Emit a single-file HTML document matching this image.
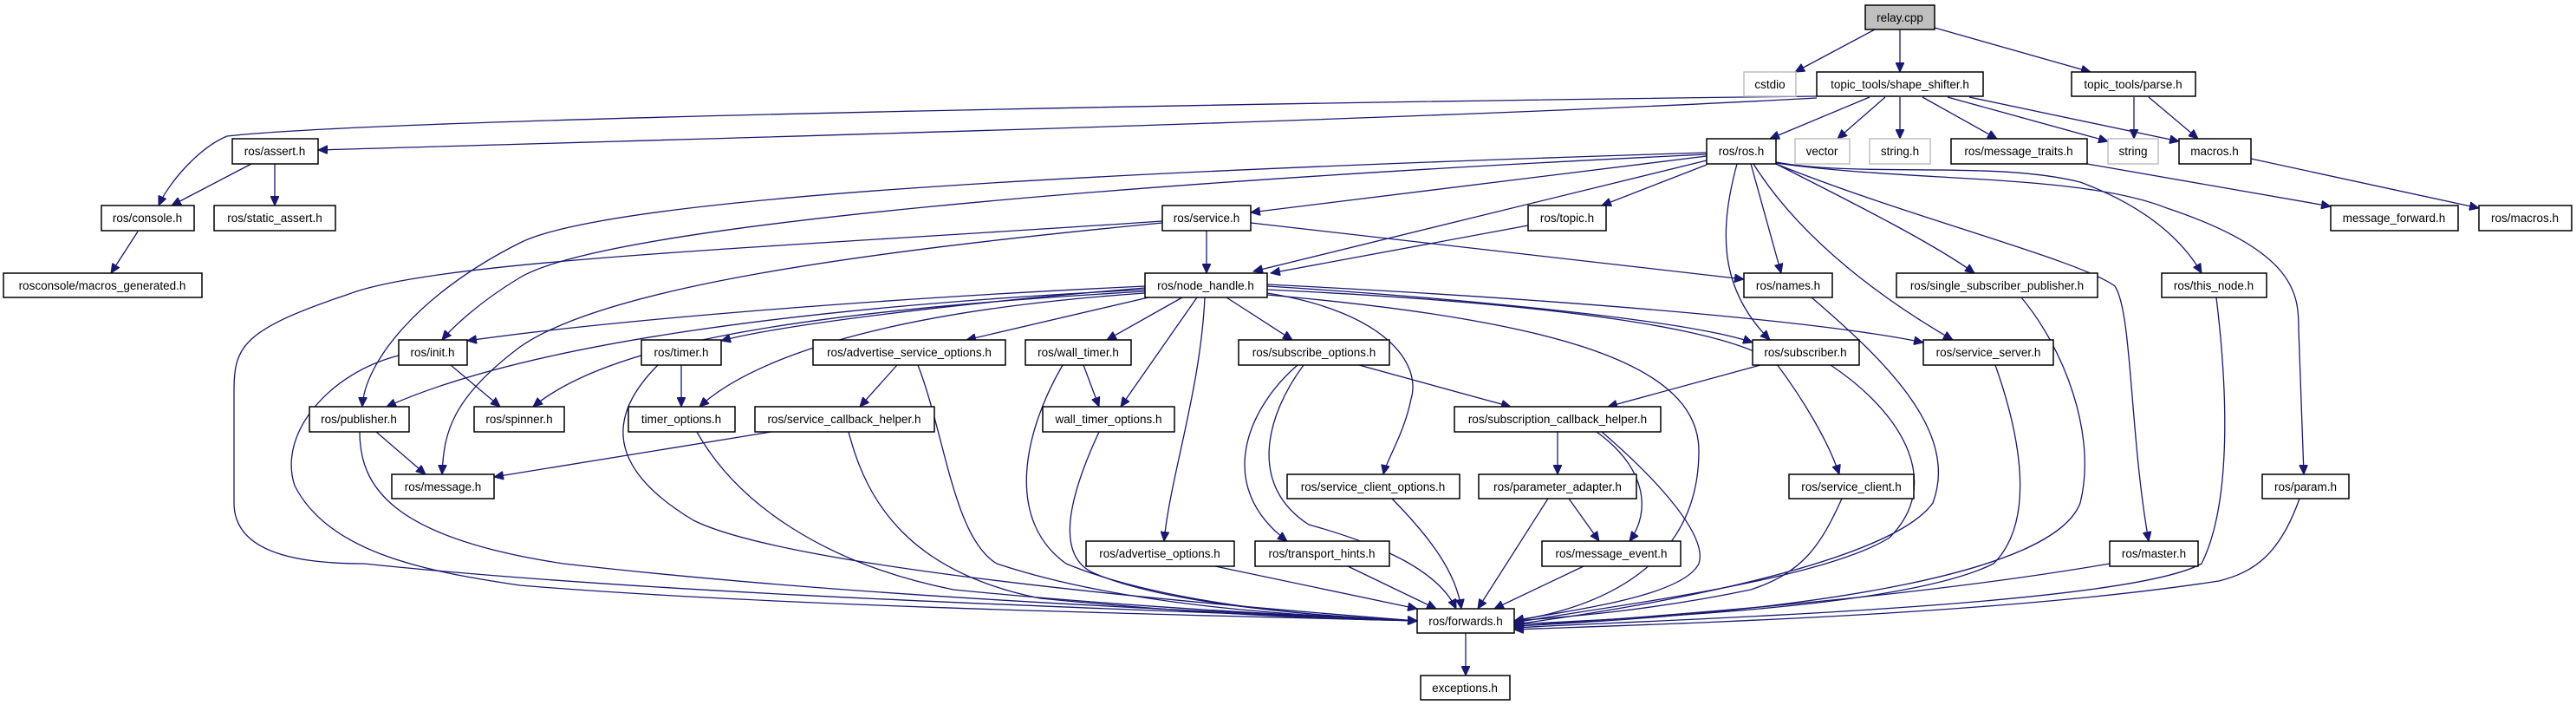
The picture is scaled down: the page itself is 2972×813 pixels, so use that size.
<!DOCTYPE html>
<html><head><meta charset="utf-8"><style>
html,body{margin:0;padding:0;background:#fff;}
svg{display:block;}
text{font-family:"Liberation Sans",sans-serif;font-size:13.5px;fill:#000;}
.e{fill:none;stroke:#191970;stroke-width:1.3;marker-end:url(#a);}
.n{fill:#fff;stroke:#000;stroke-width:1.5;}
.g{fill:#fff;stroke:#bfbfbf;stroke-width:1.5;}
</style></head><body>
<svg width="2972" height="813" viewBox="0 0 2972 813" xmlns="http://www.w3.org/2000/svg">
<defs><marker id="a" markerUnits="userSpaceOnUse" markerWidth="12" markerHeight="10" refX="11" refY="5" orient="auto"><path d="M0,0 L11,5 L0,10 z" fill="#191970" stroke="#191970"/></marker></defs>
<g>
<path class="e" d="M2163,34 L2071,83"/>
<path class="e" d="M2192,34 L2192,83"/>
<path class="e" d="M2232,32 L2412,83"/>
<path class="e" d="M2157,112 L2042,160"/>
<path class="e" d="M2175,112 L2120,160"/>
<path class="e" d="M2192,112 L2192,160"/>
<path class="e" d="M2218,112 L2304,160"/>
<path class="e" d="M2247,112 L2432,163"/>
<path class="e" d="M2272,112 L2514,163"/>
<path class="e" d="M2462,112 L2462,160"/>
<path class="e" d="M2479,112 L2536,160"/>
<path class="e" d="M2597,183 L2860,240"/>
<path class="e" d="M2408,189 L2689,238"/>
<path class="e" d="M2096,111 C1500,118 450,136 262,157 C230,170 195,210 183,237"/>
<path class="e" d="M2096,113 C1600,140 800,160 367,173"/>
<path class="e" d="M290,189 L198,237"/>
<path class="e" d="M317,189 L317,237"/>
<path class="e" d="M159,267 L128,315"/>
<path class="e" d="M1969,180 L1443,245"/>
<path class="e" d="M1969,190 L1848,237"/>
<path class="e" d="M1969,185 L1446,313"/>
<path class="e" d="M1969,176 C1200,200 700,230 600,280 C480,340 420,420 418,469"/>
<path class="e" d="M1969,178 C1300,210 700,260 600,320 C550,350 520,380 510,392"/>
<path class="e" d="M2020,189 L2055,315"/>
<path class="e" d="M2004,189 C1985,260 1980,330 2042,392"/>
<path class="e" d="M2023,189 C2080,280 2180,350 2253,392"/>
<path class="e" d="M2049,189 C2130,230 2230,280 2278,315"/>
<path class="e" d="M2049,187 C2150,205 2300,185 2400,210 C2480,240 2520,280 2540,315"/>
<path class="e" d="M2049,188 C2200,210 2400,200 2500,240 C2650,290 2652,340 2652,380 L2658,547"/>
<path class="e" d="M2049,189 C2200,250 2400,300 2440,330 C2460,360 2457,500 2479,624"/>
<path class="e" d="M1392,266 L1392,315"/>
<path class="e" d="M1443,257 L2012,322"/>
<path class="e" d="M1341,257 C1000,290 700,330 600,400 C520,460 512,500 510,547"/>
<path class="e" d="M1341,255 C900,285 500,300 400,340 C280,380 270,400 270,450 L270,580 C270,640 350,650 420,650 C800,690 1400,705 1635,716"/>
<path class="e" d="M1763,260 L1466,315"/>
<path class="e" d="M1321,330 C1000,345 700,370 539,393"/>
<path class="e" d="M1321,332 C1100,350 900,375 832,393"/>
<path class="e" d="M1321,334 C900,355 600,400 446,469"/>
<path class="e" d="M1321,336 C900,360 700,400 615,469"/>
<path class="e" d="M1321,338 C1000,360 860,420 807,469"/>
<path class="e" d="M1325,343 L1115,392"/>
<path class="e" d="M1364,343 L1277,392"/>
<path class="e" d="M1381,343 L1293,469"/>
<path class="e" d="M1390,343 C1385,450 1350,550 1343,624"/>
<path class="e" d="M1415,343 L1491,392"/>
<path class="e" d="M1462,338 C1600,360 1640,420 1628,460 C1620,500 1600,530 1596,547"/>
<path class="e" d="M1462,330 C1700,345 1950,370 2022,395"/>
<path class="e" d="M1462,328 C1800,345 2100,370 2219,395"/>
<path class="e" d="M1462,334 C1800,350 2000,380 2050,420 C2080,460 2110,510 2122,547"/>
<path class="e" d="M1462,340 C1800,370 1960,420 1960,520 C1960,650 1850,700 1747,716"/>
<path class="e" d="M520,421 L577,469"/>
<path class="e" d="M460,410 C380,430 320,500 340,560 C380,640 500,660 600,675 C900,700 1400,710 1635,716"/>
<path class="e" d="M434,498 L491,547"/>
<path class="e" d="M415,498 C415,560 450,620 650,650 C1000,690 1400,705 1635,716"/>
<path class="e" d="M786,421 L786,469"/>
<path class="e" d="M759,421 C700,480 700,540 800,600 C900,650 1300,690 1635,716"/>
<path class="e" d="M804,498 C850,580 950,650 1100,680 C1300,700 1500,710 1635,716"/>
<path class="e" d="M1035,421 L992,469"/>
<path class="e" d="M1059,421 C1090,500 1100,620 1150,650 C1300,700 1500,710 1635,716"/>
<path class="e" d="M890,498 L570,550"/>
<path class="e" d="M979,498 C1000,580 1050,660 1200,690 C1400,710 1550,714 1635,716"/>
<path class="e" d="M1250,421 L1268,469"/>
<path class="e" d="M1226,421 C1180,500 1160,600 1230,650 C1350,700 1550,713 1635,716"/>
<path class="e" d="M1268,498 C1230,580 1220,640 1260,660 C1350,700 1550,712 1635,716"/>
<path class="e" d="M1568,421 L1743,469"/>
<path class="e" d="M1497,421 C1440,470 1400,560 1485,624"/>
<path class="e" d="M1504,421 C1460,480 1440,560 1510,605 C1600,630 1660,660 1680,702"/>
<path class="e" d="M1606,575 C1650,620 1680,660 1686,702"/>
<path class="e" d="M1797,498 L1797,547"/>
<path class="e" d="M1842,498 C1900,540 1905,590 1880,624"/>
<path class="e" d="M1848,498 C1920,560 1970,620 1960,650 C1940,690 1800,705 1747,716"/>
<path class="e" d="M1810,575 L1845,624"/>
<path class="e" d="M1786,575 L1705,702"/>
<path class="e" d="M1402,653 L1635,702"/>
<path class="e" d="M1555,653 L1657,702"/>
<path class="e" d="M1827,653 L1724,702"/>
<path class="e" d="M1691,730 L1691,779"/>
<path class="e" d="M2031,421 L1855,469"/>
<path class="e" d="M2112,421 C2200,480 2240,560 2180,620 C2100,670 1850,700 1747,718"/>
<path class="e" d="M2302,421 C2330,500 2350,600 2300,650 C2200,700 1900,712 1747,720"/>
<path class="e" d="M2332,343 C2380,400 2420,500 2400,580 C2370,660 2100,705 1747,722"/>
<path class="e" d="M2090,343 C2180,420 2260,500 2230,580 C2180,650 1900,700 1747,720"/>
<path class="e" d="M2557,343 C2570,450 2575,580 2540,650 C2450,700 1900,715 1747,724"/>
<path class="e" d="M2434,650 C2200,690 1900,712 1747,722"/>
<path class="e" d="M2653,575 C2630,640 2600,660 2560,670 C2300,710 1900,720 1747,726"/>
<path class="e" d="M2125,575 C2100,630 2080,660 2020,680 C1900,705 1800,712 1747,716"/>
</g>
<g text-anchor="middle">
<rect x="2152" y="6" width="80" height="28" fill="#bfbfbf" stroke="#000" stroke-width="1.5"/><text x="2192" y="25">relay.cpp</text>
<rect class="g" x="2012" y="83" width="60" height="28"/><text x="2042" y="102">cstdio</text>
<rect class="n" x="2096" y="83" width="192" height="28"/><text x="2192" y="102">topic_tools/shape_shifter.h</text>
<rect class="n" x="2390" y="83" width="143" height="28"/><text x="2461" y="102">topic_tools/parse.h</text>
<rect class="n" x="1969" y="160" width="80" height="29"/><text x="2009" y="179">ros/ros.h</text>
<rect class="g" x="2071" y="160" width="63" height="29"/><text x="2102" y="179">vector</text>
<rect class="g" x="2157" y="160" width="70" height="29"/><text x="2192" y="179">string.h</text>
<rect class="n" x="2251" y="160" width="157" height="29"/><text x="2329" y="179">ros/message_traits.h</text>
<rect class="g" x="2432" y="160" width="58" height="29"/><text x="2461" y="179">string</text>
<rect class="n" x="2514" y="160" width="83" height="29"/><text x="2555" y="179">macros.h</text>
<rect class="n" x="268" y="160" width="99" height="29"/><text x="317" y="179">ros/assert.h</text>
<rect class="n" x="117" y="237" width="107" height="29"/><text x="170" y="256">ros/console.h</text>
<rect class="n" x="247" y="237" width="140" height="29"/><text x="317" y="256">ros/static_assert.h</text>
<rect class="n" x="1341" y="237" width="102" height="29"/><text x="1392" y="256">ros/service.h</text>
<rect class="n" x="1763" y="237" width="90" height="29"/><text x="1808" y="256">ros/topic.h</text>
<rect class="n" x="2689" y="237" width="147" height="29"/><text x="2762" y="256">message_forward.h</text>
<rect class="n" x="2860" y="237" width="107" height="29"/><text x="2913" y="256">ros/macros.h</text>
<rect class="n" x="4" y="315" width="229" height="28"/><text x="118" y="334">rosconsole/macros_generated.h</text>
<rect class="n" x="1321" y="315" width="141" height="28"/><text x="1391" y="334">ros/node_handle.h</text>
<rect class="n" x="2012" y="315" width="102" height="28"/><text x="2063" y="334">ros/names.h</text>
<rect class="n" x="2188" y="315" width="232" height="28"/><text x="2304" y="334">ros/single_subscriber_publisher.h</text>
<rect class="n" x="2494" y="315" width="121" height="28"/><text x="2554" y="334">ros/this_node.h</text>
<rect class="n" x="460" y="392" width="79" height="29"/><text x="499" y="411">ros/init.h</text>
<rect class="n" x="740" y="392" width="92" height="29"/><text x="786" y="411">ros/timer.h</text>
<rect class="n" x="938" y="392" width="222" height="29"/><text x="1049" y="411">ros/advertise_service_options.h</text>
<rect class="n" x="1183" y="392" width="122" height="29"/><text x="1244" y="411">ros/wall_timer.h</text>
<rect class="n" x="1429" y="392" width="174" height="29"/><text x="1516" y="411">ros/subscribe_options.h</text>
<rect class="n" x="2022" y="392" width="123" height="29"/><text x="2083" y="411">ros/subscriber.h</text>
<rect class="n" x="2219" y="392" width="150" height="29"/><text x="2294" y="411">ros/service_server.h</text>
<rect class="n" x="357" y="469" width="115" height="29"/><text x="414" y="488">ros/publisher.h</text>
<rect class="n" x="547" y="469" width="104" height="29"/><text x="599" y="488">ros/spinner.h</text>
<rect class="n" x="725" y="469" width="123" height="29"/><text x="786" y="488">timer_options.h</text>
<rect class="n" x="871" y="469" width="207" height="29"/><text x="974" y="488">ros/service_callback_helper.h</text>
<rect class="n" x="1203" y="469" width="152" height="29"/><text x="1279" y="488">wall_timer_options.h</text>
<rect class="n" x="1678" y="469" width="238" height="29"/><text x="1797" y="488">ros/subscription_callback_helper.h</text>
<rect class="n" x="452" y="547" width="118" height="28"/><text x="511" y="566">ros/message.h</text>
<rect class="n" x="1485" y="547" width="199" height="28"/><text x="1584" y="566">ros/service_client_options.h</text>
<rect class="n" x="1706" y="547" width="182" height="28"/><text x="1797" y="566">ros/parameter_adapter.h</text>
<rect class="n" x="2064" y="547" width="144" height="28"/><text x="2136" y="566">ros/service_client.h</text>
<rect class="n" x="2610" y="547" width="100" height="28"/><text x="2660" y="566">ros/param.h</text>
<rect class="n" x="1253" y="624" width="171" height="29"/><text x="1338" y="643">ros/advertise_options.h</text>
<rect class="n" x="1448" y="624" width="155" height="29"/><text x="1525" y="643">ros/transport_hints.h</text>
<rect class="n" x="1779" y="624" width="160" height="29"/><text x="1859" y="643">ros/message_event.h</text>
<rect class="n" x="2434" y="624" width="102" height="29"/><text x="2485" y="643">ros/master.h</text>
<rect class="n" x="1635" y="702" width="112" height="28"/><text x="1691" y="721">ros/forwards.h</text>
<rect class="n" x="1639" y="779" width="103" height="28"/><text x="1690" y="798">exceptions.h</text>
</g>
</svg>
</body></html>
